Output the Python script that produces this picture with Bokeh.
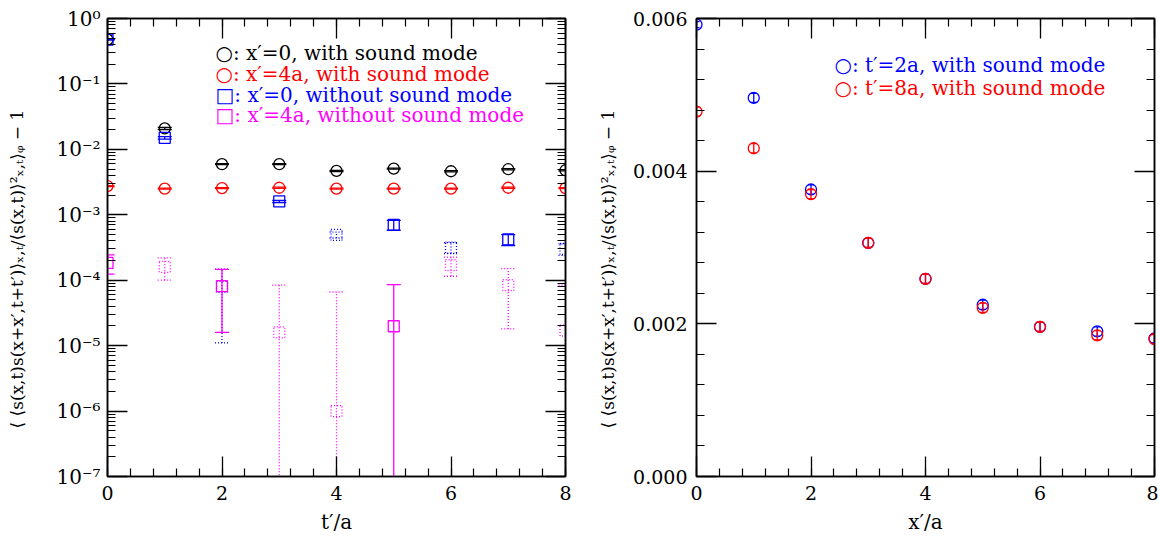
from bokeh.plotting import figure
from bokeh.models import (FixedTicker, LogAxis, LinearAxis, Label, Range1d,
                          CustomJSTickFormatter, NumeralTickFormatter)
from bokeh.layouts import row
from bokeh.embed import file_html
from bokeh.resources import INLINE

FONT = "DejaVu Serif"

# ---------------- left panel data (t'/a on x, log y) ----------------
t_sep = [0, 1, 2, 3, 4, 5, 6, 7, 8]
# x'=0, with sound mode
x0_with = [0.475, 0.0209, 0.00593, 0.00593, 0.00468, 0.00508, 0.00463, 0.00497, 0.00479]
x0_with_err = [0.004, 0.0008, 0.0001, 0.0001, 0.0001, 0.0001, 0.0001, 0.0001, 0.0001]
# x'=4a, with sound mode
x4_with = [0.00275, 0.00251, 0.00256, 0.00259, 0.00251, 0.00251, 0.00251, 0.00259, 0.00256]
x4_with_err = [0.00005, 0.00005, 0.00005, 0.00005, 0.00005, 0.00005, 0.00005, 0.00005, 0.00005]
# x'=0, without sound mode (negative values drawn dotted at |value|)
x0_without = [0.475, 0.0150, -0.000079, 0.00160, -0.000492, 0.00070, -0.000315, 0.000419, -0.00030]
x0_without_err = [0.004, 0.0007, 0.000068, 0.00006, 0.00005, 0.00012, 0.00006, 0.00008, 0.00006]
# x'=4a, without sound mode
x4_without = [0.000184, -0.000160, 0.000081, -0.000016, -0.0000010, 0.0000198, -0.000170, -0.000084, -0.000017]
x4_without_err = [0.00006, 0.00006, 0.000065, 0.000068, 0.000065, 0.000066, 0.000055, 0.000066, 0.000067]

# ---------------- right panel data (x'/a on x, linear y) ----------------
x_sep = [0, 1, 2, 3, 4, 5, 6, 7, 8]
t2_with = [0.00592, 0.00496, 0.00376, 0.00306, 0.00259, 0.00225, 0.00196, 0.00190, 0.00181]
t2_with_err = [0.00004, 0.00006, 0.00006, 0.00006, 0.00006, 0.00006, 0.00006, 0.00006, 0.00006]
t8_with = [0.00478, 0.00430, 0.00370, 0.00306, 0.00259, 0.00221, 0.00196, 0.00185, 0.00180]
t8_with_err = [0.00006, 0.00006, 0.00006, 0.00006, 0.00006, 0.00006, 0.00006, 0.00006, 0.00006]

# ---------------- ticks / labels ----------------
x_ticks = [0, 2, 4, 6, 8]
x_minor = [0.4 * i for i in range(21)]
left_y_ticks = [1e-7, 1e-6, 1e-5, 1e-4, 1e-3, 1e-2, 1e-1, 1e0]
left_y_labels = ["10⁻⁷", "10⁻⁶", "10⁻⁵", "10⁻⁴", "10⁻³", "10⁻²", "10⁻¹", "10⁰"]
left_y_minor = [m * 10.0 ** k for k in range(-7, 0) for m in range(1, 11)]
right_y_ticks = [0.0, 0.002, 0.004, 0.006]
right_y_minor = [0.0004 * i for i in range(16)]

left_legend = ["○: x′=0, with sound mode", "○: x′=4a, with sound mode",
               "□: x′=0, without sound mode", "□: x′=4a, without sound mode"]
right_legend = ["○: t′=2a, with sound mode", "○: t′=8a, with sound mode"]
y_title = "⟨ ⟨s(x,t)s(x+x′,t+t′)⟩ₓ,ₜ/⟨s(x,t)⟩²ₓ,ₜ⟩ᵩ − 1"
# the reference title sits a little below the frame centre
y_title_padded = y_title + "\u00a0" * 8

BLACK, RED, BLUE, MAGENTA = "#000000", "#ff0000", "#0000ff", "#ff00ff"
FLOOR = 1e-9


def style_axis(ax, ticker, labels=True):
    ax.ticker = ticker
    ax.axis_line_color = "black"
    ax.axis_line_width = 1.5
    ax.major_tick_in = 20
    ax.major_tick_out = 0
    ax.minor_tick_in = 8
    ax.minor_tick_out = 0
    ax.major_tick_line_color = "black"
    ax.minor_tick_line_color = "black"
    ax.major_tick_line_width = 1.3
    ax.minor_tick_line_width = 1.2
    ax.major_label_text_font = FONT
    ax.major_label_text_font_size = "19px"
    ax.major_label_text_color = "black"
    ax.axis_label_text_font = FONT
    ax.axis_label_text_font_size = "20px"
    ax.axis_label_text_font_style = "normal"
    ax.axis_label_text_color = "black"
    if not labels:
        ax.formatter = CustomJSTickFormatter(code="return ''")
        ax.major_label_standoff = 0


def base_fig(**kw):
    p = figure(frame_width=458, frame_height=458, x_range=Range1d(0, 8),
               output_backend="svg", toolbar_location=None,
               min_border_top=18, min_border_bottom=60, **kw)
    p.grid.visible = False
    p.outline_line_color = "black"
    p.outline_line_width = 1.5
    p.background_fill_color = "white"
    p.border_fill_color = "white"
    return p


def draw_series(p, xs, vals, errs, color, marker, size, cap, negative):
    sx, sy, lo, hi, cx, cy = [], [], [], [], [], []
    for x, v, e in zip(xs, vals, errs):
        if (v < 0) != negative:
            continue
        a = abs(v)
        sx.append(x)
        sy.append(a)
        hi.append(a + e)
        l = a - e
        lo.append(l if l > 0 else FLOOR)
        if l > 0:
            cx.append(x)
            cy.append(l)
    if not sx:
        return
    dash = "1 2" if negative else "solid"
    p.segment(x0=sx, y0=lo, x1=sx, y1=hi, line_color=color, line_width=1.3, line_dash=dash)
    p.scatter(x=sx, y=hi, marker="dash", size=cap, line_color=color, line_width=1.3, line_dash=dash)
    if cx:
        p.scatter(x=cx, y=cy, marker="dash", size=cap, line_color=color, line_width=1.3, line_dash=dash)
    p.scatter(x=sx, y=sy, marker=marker, size=size, fill_color=None, line_color=color,
              line_width=1.3, line_dash=dash)


# ---------------- left figure ----------------
p1 = base_fig(y_axis_type="log", y_range=Range1d(1e-7, 1.0),
              min_border_left=107, min_border_right=30)
p1.xaxis.axis_label = "t′/a"
p1.yaxis.axis_label = y_title_padded
style_axis(p1.xaxis[0], FixedTicker(ticks=x_ticks, minor_ticks=x_minor))
style_axis(p1.yaxis[0], FixedTicker(ticks=left_y_ticks, minor_ticks=left_y_minor))
p1.yaxis[0].major_label_overrides = dict(zip(left_y_ticks, left_y_labels))
p1.yaxis[0].major_label_text_font_size = "20px"
p1.xaxis[0].major_label_standoff = 9
p1.xaxis[0].axis_label_standoff = 7
p1.yaxis[0].major_label_standoff = 7
p1.yaxis[0].axis_label_standoff = 26
p1.yaxis[0].axis_label_text_font_size = "17px"

ax_r = LogAxis()
style_axis(ax_r, FixedTicker(ticks=left_y_ticks, minor_ticks=left_y_minor), labels=False)
p1.add_layout(ax_r, "right")
ax_t = LinearAxis()
style_axis(ax_t, FixedTicker(ticks=x_ticks, minor_ticks=x_minor), labels=False)
p1.add_layout(ax_t, "above")

for vals, errs, color, marker in [(x0_with, x0_with_err, BLACK, "circle"),
                                  (x4_with, x4_with_err, RED, "circle"),
                                  (x0_without, x0_without_err, BLUE, "square"),
                                  (x4_without, x4_without_err, MAGENTA, "square")]:
    for neg in (False, True):
        draw_series(p1, t_sep, vals, errs, color, marker, 11, 14, neg)

for text, color, yv in zip(left_legend, [BLACK, RED, BLUE, MAGENTA], [0.292, 0.142, 0.0689, 0.0335]):
    p1.add_layout(Label(x=1.886, y=yv, text=text, text_color=color, text_font=FONT,
                        text_font_size="20px", text_baseline="middle", text_align="left"))

# ---------------- right figure ----------------
p2 = base_fig(y_range=Range1d(0.0, 0.006), min_border_left=100, min_border_right=4)
p2.xaxis.axis_label = "x′/a"
p2.yaxis.axis_label = y_title_padded
style_axis(p2.xaxis[0], FixedTicker(ticks=x_ticks, minor_ticks=x_minor))
style_axis(p2.yaxis[0], FixedTicker(ticks=right_y_ticks, minor_ticks=right_y_minor))
p2.yaxis[0].formatter = NumeralTickFormatter(format="0.000")
p2.xaxis[0].major_label_standoff = 9
p2.xaxis[0].axis_label_standoff = 7
p2.yaxis[0].major_label_standoff = 9
p2.yaxis[0].axis_label_standoff = 12
p2.yaxis[0].axis_label_text_font_size = "17px"

ax_r2 = LinearAxis()
style_axis(ax_r2, FixedTicker(ticks=right_y_ticks, minor_ticks=right_y_minor), labels=False)
p2.add_layout(ax_r2, "right")
ax_t2 = LinearAxis()
style_axis(ax_t2, FixedTicker(ticks=x_ticks, minor_ticks=x_minor), labels=False)
p2.add_layout(ax_t2, "above")

for vals, errs, color in [(t2_with, t2_with_err, BLUE), (t8_with, t8_with_err, RED)]:
    draw_series(p2, x_sep, vals, errs, color, "circle", 11, 6, False)

for text, color, yv in zip(right_legend, [BLUE, RED], [0.005393, 0.005092]):
    p2.add_layout(Label(x=2.41, y=yv, text=text, text_color=color, text_font=FONT,
                        text_font_size="20px", text_baseline="middle", text_align="left"))

layout = row(p1, p2)
open("out.html", "w").write(file_html(layout, INLINE))
